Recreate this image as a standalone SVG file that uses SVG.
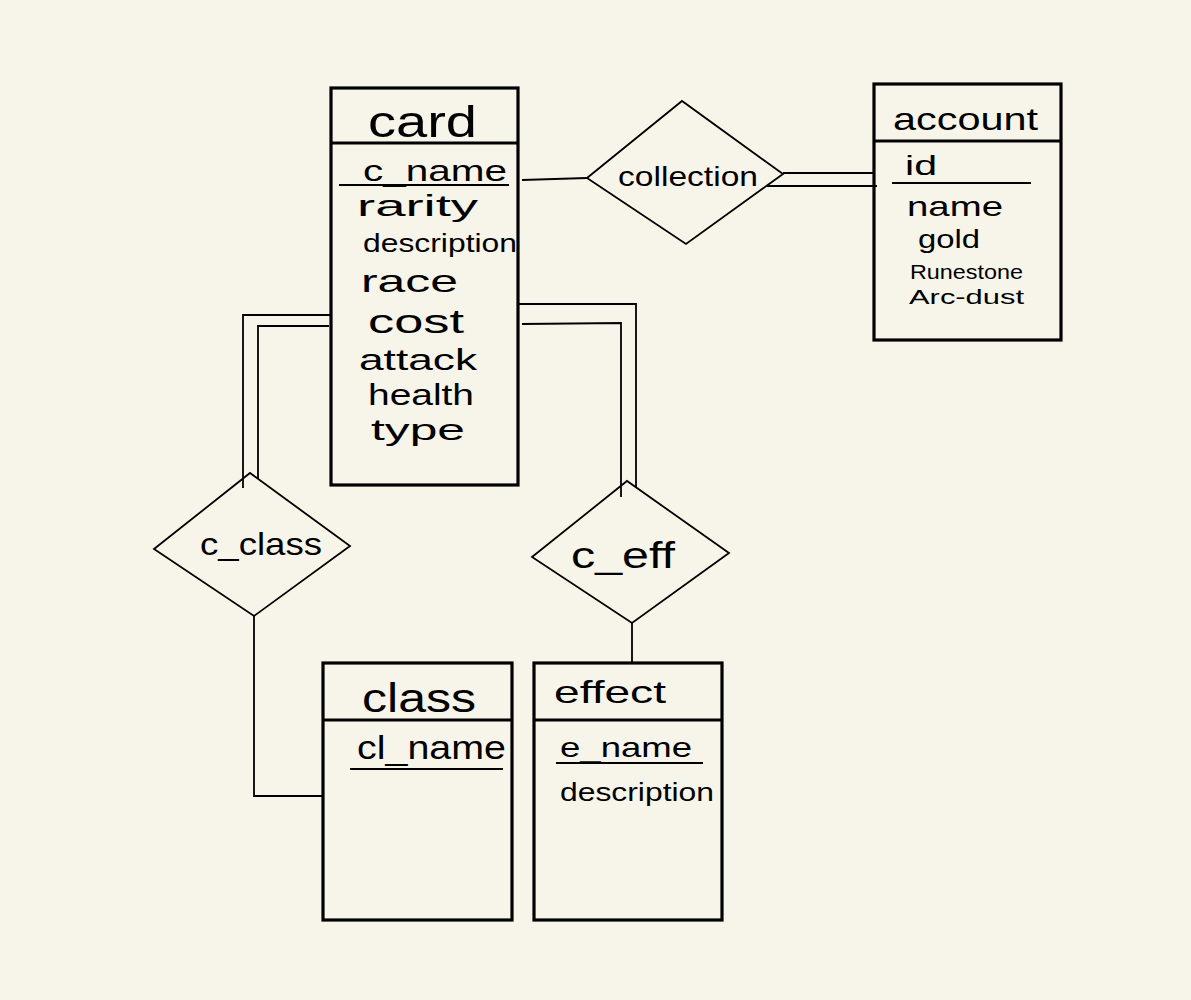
<svg xmlns="http://www.w3.org/2000/svg" width="1191" height="1000" viewBox="0 0 1191 1000">
<style>
.bg{fill:#f7f5ea}
.box{fill:none;stroke:#000;stroke-width:3.2}
.div{stroke:#000;stroke-width:3}
.ul{stroke:#000;stroke-width:1.8}
.dia{fill:none;stroke:#000;stroke-width:1.8;stroke-linejoin:miter}
.ln{fill:none;stroke:#000;stroke-width:1.8}
text{font-family:"Liberation Sans","DejaVu Sans",sans-serif;fill:#000}
</style>
<rect class="bg" x="0" y="0" width="1191" height="1000"/>
<g id="connectors">
<polyline class="ln" points="522,180 587,178"/>
<polyline class="ln" points="783,173 873,173"/>
<polyline class="ln" points="767,186 877,186"/>
<polyline class="ln" points="330,315 243,315 243,488"/>
<polyline class="ln" points="329,326 258,326 258,479"/>
<polyline class="ln" points="519,304 636,304 636,487"/>
<polyline class="ln" points="522,324 621,323 621,497"/>
<polyline class="ln" points="632,623 632,663"/>
<polyline class="ln" points="254,616 254,796 323,796"/>
</g>
<g id="card">
<rect class="box" x="331" y="88" width="187" height="397"/>
<line class="div" x1="331" y1="143" x2="518" y2="143"/>
<line class="ul" x1="339" y1="185" x2="509" y2="185"/>
<text x="368" y="137" font-size="44" textLength="109" lengthAdjust="spacingAndGlyphs">card</text>
<text x="363" y="181" font-size="30" textLength="144" lengthAdjust="spacingAndGlyphs">c_name</text>
<text x="357" y="216" font-size="30" textLength="121" lengthAdjust="spacingAndGlyphs">rarity</text>
<text x="363" y="252" font-size="26" textLength="154" lengthAdjust="spacingAndGlyphs">description</text>
<text x="361" y="292" font-size="32" textLength="97" lengthAdjust="spacingAndGlyphs">race</text>
<text x="368" y="333" font-size="34" textLength="96" lengthAdjust="spacingAndGlyphs">cost</text>
<text x="359" y="370" font-size="29" textLength="118" lengthAdjust="spacingAndGlyphs">attack</text>
<text x="368" y="405" font-size="29" textLength="106" lengthAdjust="spacingAndGlyphs">health</text>
<text x="371" y="440" font-size="30" textLength="94" lengthAdjust="spacingAndGlyphs">type</text>
</g>
<g id="collection">
<polygon class="dia" points="587,178 682,101 783,174 686,244"/>
<text x="618" y="186" font-size="28" textLength="140" lengthAdjust="spacingAndGlyphs">collection</text>
</g>
<g id="account">
<rect class="box" x="874" y="84" width="187" height="256"/>
<line class="div" x1="874" y1="141" x2="1061" y2="141"/>
<line class="ul" x1="892" y1="183" x2="1031" y2="183"/>
<text x="893" y="130" font-size="32" textLength="145" lengthAdjust="spacingAndGlyphs">account</text>
<text x="905" y="175" font-size="28" textLength="32" lengthAdjust="spacingAndGlyphs">id</text>
<text x="907" y="216" font-size="28" textLength="96" lengthAdjust="spacingAndGlyphs">name</text>
<text x="918" y="248" font-size="25" textLength="62" lengthAdjust="spacingAndGlyphs">gold</text>
<text x="910" y="279" font-size="21" textLength="113" lengthAdjust="spacingAndGlyphs">Runestone</text>
<text x="909" y="304" font-size="21" textLength="115" lengthAdjust="spacingAndGlyphs">Arc-dust</text>
</g>
<g id="c_class">
<polygon class="dia" points="154,549 250,473 350,546 254,616"/>
<text x="200" y="555" font-size="32" textLength="122" lengthAdjust="spacingAndGlyphs">c_class</text>
</g>
<g id="c_eff">
<polygon class="dia" points="532,557 627,481 729,553 632,623"/>
<text x="571" y="568" font-size="36" textLength="104" lengthAdjust="spacingAndGlyphs">c_eff</text>
</g>
<g id="class">
<rect class="box" x="323" y="663" width="189" height="257"/>
<line class="div" x1="323" y1="720" x2="512" y2="720"/>
<line class="ul" x1="350" y1="769" x2="503" y2="769"/>
<text x="362" y="712" font-size="40" textLength="114" lengthAdjust="spacingAndGlyphs">class</text>
<text x="357" y="759" font-size="34" textLength="149" lengthAdjust="spacingAndGlyphs">cl_name</text>
</g>
<g id="effect">
<rect class="box" x="534" y="663" width="188" height="257"/>
<line class="div" x1="534" y1="720" x2="722" y2="720"/>
<line class="ul" x1="556" y1="763" x2="703" y2="763"/>
<text x="554" y="703" font-size="32" textLength="112" lengthAdjust="spacingAndGlyphs">effect</text>
<text x="560" y="757" font-size="28" textLength="132" lengthAdjust="spacingAndGlyphs">e_name</text>
<text x="560" y="801" font-size="26" textLength="154" lengthAdjust="spacingAndGlyphs">description</text>
</g>
</svg>
